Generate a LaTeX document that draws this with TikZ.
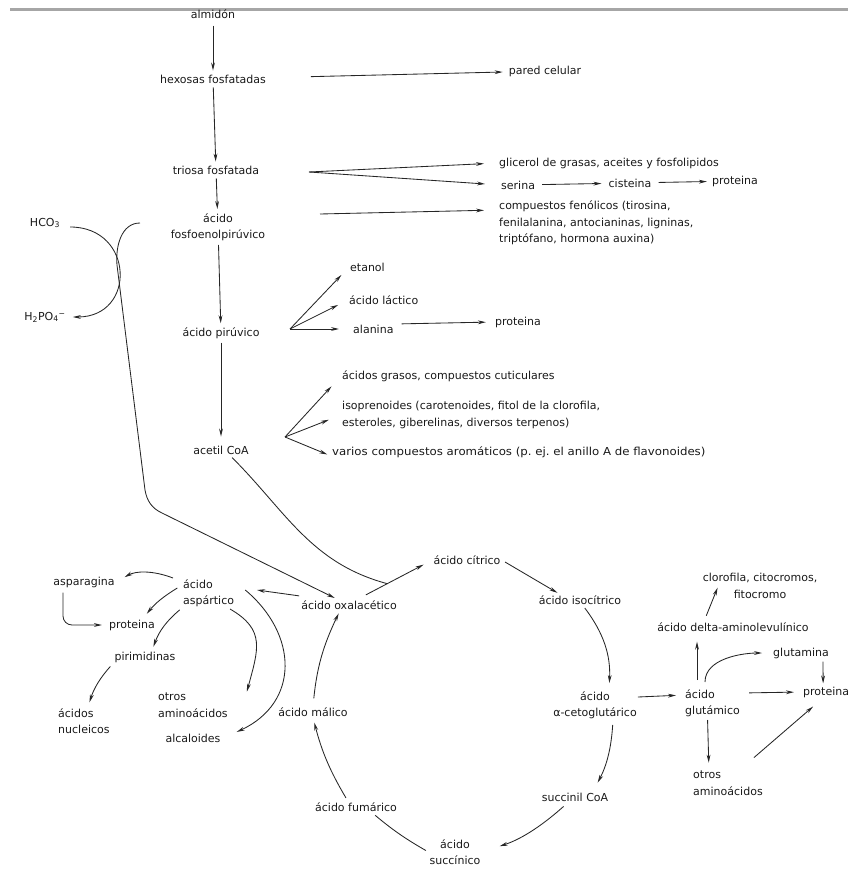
\documentclass[tikz,border=0pt]{standalone}
\usepackage{fontspec}
\setmainfont{DejaVu Sans}
\usepackage{tikz}
\usetikzlibrary{arrows.meta}
\usetikzlibrary{calc}
\newcommand{\lblfont}{\fontsize{11}{16.5}\selectfont}

\begin{document}
\begin{tikzpicture}[
    x=1pt, y=1pt,
    >={Stealth[length=8pt,width=3.8pt]},
    lbl/.style={font=\lblfont, inner sep=1pt, text=black!90},
    conn_style/.style={->, line width=0.85pt, draw=black!85, shorten <=3pt, shorten >=3pt},
    line_style/.style={line width=0.85pt, draw=black!85, shorten <=3pt, shorten >=3pt},
    bar_style/.style={fill=black!35}
  ]
  \useasboundingbox (0,0) rectangle (848,-869);

  % 0. Grå kant överst
  \fill[bar_style] (10,-8.5) rectangle (848,-11.5);

  % 1. Huvudkedjan
  \node[lbl] (alm) at (213,-14) {almidón};
  \node[lbl] (hex) at (213,-79) {hexosas fosfatadas};
  \node[lbl] (tri) at (216,-170) {triosa fosfatada};
  \node[lbl, align=center] (pep) at (218,-227) {ácido\\fosfoenolpirúvico};
  \node[lbl] (pir) at (221,-333) {ácido pirúvico};
  \node[lbl] (acet) at (221,-450) {acetil CoA};

  \draw[conn_style, shorten <=6pt] (alm) -- (hex);
  \draw[conn_style] (hex) -- (tri);
  \draw[conn_style] (tri) -- (pep);
  \draw[conn_style] (pep) -- (pir);
  \draw[conn_style, shorten >=8pt] (pir) -- (acet);

  % 2. Ramar åt höger upptill
  \node[lbl] (pared) at (545,-71) {pared celular};
  \node[lbl, anchor=west] (glic) at (498,-163) {glicerol de grasas, aceites y fosfolipidos};
  \node[lbl, anchor=west] (ser) at (500,-185) {serina};
  \node[lbl] (cis) at (630,-183) {cisteina};
  \node[lbl] (protA) at (735,-181) {proteina};
  \node[lbl, anchor=north west, align=left] (fen) at (498,-200)
    {compuestos fenólicos (tirosina,\\fenilalanina, antocianinas, ligninas,\\triptófano, hormona auxina)};

  \draw[conn_style, shorten <=44pt, shorten >=5pt] (hex) -- (pared);
  \coordinate (triB) at (309,-172);
  \draw[conn_style, shorten <=0pt, shorten >=14pt] (triB) -- (glic.west);
  \draw[conn_style, shorten <=0pt, shorten >=15pt] (triB) -- (ser.west);
  \draw[conn_style, shorten <=6pt, shorten >=6pt] (ser) -- (cis);
  \draw[conn_style, shorten <=6pt, shorten >=4pt] (cis) -- (protA);
  \coordinate (pepB) at (320,-214);
  \draw[conn_style, shorten <=0pt, shorten >=14pt] (pepB) -- ([yshift=-10pt]fen.north west);

  % 3. HCO3 och H2PO4
  \node[lbl] (hco) at (45,-223) {HCO\textsubscript{3}};
  \node[lbl] (hpo) at (45,-317) {H\textsubscript{2}PO\textsubscript{4}\textsuperscript{−}};
  \draw[conn_style, shorten <=0pt, shorten >=0pt] ([xshift=9pt,yshift=-4pt]hco.east)
    .. controls +(64,0) and +(64,0) .. ([xshift=6pt]hpo.east);

  % 4. Pyruvat
  \node[lbl, anchor=west] (etanol) at (349,-267) {etanol};
  \node[lbl, anchor=west] (lact) at (348,-300) {ácido láctico};
  \node[lbl, anchor=west] (ala) at (352,-329) {alanina};
  \node[lbl] (protB) at (518,-322) {proteina};

  \coordinate (pirB) at (290,-329);
  \draw[conn_style, shorten <=0pt, shorten >=11pt] (pirB) -- (etanol.west);
  \draw[conn_style, shorten <=0pt, shorten >=11pt] (pirB) -- (lact.west);
  \draw[conn_style, shorten <=0pt, shorten >=13pt] (pirB) -- (ala.west);
  \draw[conn_style, shorten <=7pt, shorten >=8pt] ([yshift=5pt]ala.east) -- (protB.west);

  % 5. Acetyl-CoA
  \node[lbl, anchor=west] (grasos) at (341,-376) {ácidos grasos, compuestos cuticulares};
  \node[lbl, anchor=west, align=left] (isop) at (341,-415)
    {isoprenoides (carotenoides, fitol de la clorofila,\\esteroles, giberelinas, diversos terpenos)};
  \node[lbl, anchor=west] (varios) at (331,-452)
    {\scalebox{1.07}[1]{varios compuestos aromáticos (p.~ej.\ el anillo A de flavonoides)}};

  \coordinate (acetB) at (285,-437);
  \draw[conn_style, shorten <=0pt, shorten >=14pt] (acetB) -- (grasos.west);
  \draw[conn_style, shorten <=0pt, shorten >=13pt] (acetB) -- (isop.west);
  \draw[conn_style, shorten <=0pt, shorten >=4pt] (acetB) -- ([yshift=-4pt]varios.west);

  % 6. Citronsyracykeln
  \node[lbl] (cit) at (467,-560) {ácido cítrico};
  \node[lbl] (isoc) at (580,-600) {ácido isocítrico};
  \node[lbl, align=center] (akg) at (595,-705) {ácido\\α-cetoglutárico};
  \node[lbl] (succoa) at (575,-797) {succinil CoA};
  \node[lbl, align=center] (succ) at (455,-852) {ácido\\succínico};
  \node[lbl] (fum) at (356,-807) {ácido fumárico};
  \node[lbl] (mal) at (313,-712) {ácido málico};
  \node[lbl] (oxa) at (349,-605) {ácido oxalacético};

  \coordinate (oxaT) at ([xshift=16pt,yshift=4pt]oxa.north);
  \draw[conn_style, shorten <=1pt, shorten >=10pt] (oxaT) -- (cit.west);
  \coordinate (join) at ($(oxaT)!0.33!(cit.west)$);
  \draw[line_style, shorten >=0pt] ([xshift=9pt]acet.south) to[out=-45,in=165] (join);
  \draw[conn_style, shorten <=4pt] (cit.east) -- ([xshift=-20pt]isoc.north);
  \draw[conn_style, shorten >=7pt] ([xshift=3pt]isoc.south) to[bend left=20] ([xshift=14pt]akg.north);
  \draw[conn_style, shorten <=5pt, shorten >=10pt] ([xshift=18pt]akg.south) to[bend left=12] ([xshift=18pt]succoa.north);
  \draw[conn_style, shorten <=6pt, shorten >=19pt] ([xshift=-7pt]succoa.south) to[bend left=12] (succ.east);
  \draw[line_style, shorten >=4pt] (succ.west) to[bend left=5] ([xshift=16pt]fum.south);
  \draw[conn_style, shorten <=4pt, shorten >=5pt] ([xshift=-8pt]fum.north) to[bend left=8] (mal.south);
  \draw[conn_style, shorten <=8pt] (mal.north) to[bend left=10] ([xshift=-9pt]oxa.south);

  % 7. Lång linje från fosfoenolpyruvat till oxalacetat
  \coordinate (pepL) at (140,-223);
  \draw[conn_style, shorten <=0pt] (pepL) to[out=180,in=95] (117,-265) -- (145,-490)
    to[out=-80,in=155] (162,-513) -- (oxa);

  % 8. Aspartat
  \node[lbl, anchor=west, align=left] (asp) at (182,-593) {ácido\\aspártico};
  \node[lbl] (aspg) at (84,-582) {asparagina};
  \node[lbl] (protC) at (132,-625) {proteina};
  \node[lbl] (pirim) at (145,-657) {pirimidinas};
  \node[lbl, anchor=west, align=left] (nucl) at (57,-721) {ácidos\\nucleicos};
  \node[lbl, anchor=west, align=left] (otrosA) at (157,-705) {otros\\aminoácidos};
  \node[lbl] (alca) at (193,-738) {alcaloides};

  \draw[conn_style, shorten <=1pt, shorten >=22pt] ([yshift=9pt]oxa.west) -- ([yshift=6pt]asp.east);
  \draw[conn_style, shorten <=0pt, shorten >=10pt] ([xshift=-9pt]asp.north west) to[bend right=25] (aspg.east);
  \draw[conn_style, rounded corners=9pt, shorten <=4pt, shorten >=6pt] ([xshift=-21pt]aspg.south) |- (protC.west);
  \draw[conn_style, shorten <=2pt, shorten >=6pt] ([xshift=-3pt,yshift=6pt]asp.west) to[bend right=10] ([xshift=11pt]protC.north);
  \draw[conn_style, shorten >=4pt] (asp.south west) to[bend right=15] ([xshift=7pt]pirim.north);
  \draw[conn_style, shorten <=4pt, shorten >=5pt] ([xshift=-32pt]pirim.south) to[bend right=12] ([xshift=4pt]nucl.north);
  \draw[conn_style, shorten <=2pt, shorten >=0pt] ([xshift=-7pt]asp.south east)
    to[out=-30,in=75,looseness=1.3] ([xshift=18pt]otrosA.north east);
  \draw[conn_style, shorten <=0pt, shorten >=0pt] ([xshift=10pt,yshift=3pt]asp.east)
    to[out=-40,in=25,looseness=1.25] ([xshift=15pt,yshift=6pt]alca.east);

  % 9. Glutamat
  \node[lbl, anchor=west, align=left] (glu) at (684,-703) {ácido\\glutámico};
  \node[lbl, anchor=west] (protD) at (802,-692) {proteina};
  \node[lbl] (glna) at (801,-653) {glutamina};
  \node[lbl] (dala) at (733,-627) {ácido delta-aminolevulínico};
  \node[lbl, align=center] (clor) at (760,-586) {clorofila, citocromos,\\fitocromo};
  \node[lbl, anchor=west, align=left] (otrosB) at (692,-783) {otros\\aminoácidos};

  \draw[conn_style, shorten <=0pt, shorten >=8pt] ([yshift=8pt]akg.east) -- ([yshift=8pt]glu.west);
  \draw[conn_style, shorten <=8pt, shorten >=8pt] ([yshift=10pt]glu.east) -- (protD.west);
  \draw[conn_style, shorten <=2pt, shorten >=7pt] ([xshift=-5pt]glu.south) -- ([xshift=-19pt]otrosB.north);
  \draw[conn_style, shorten <=0pt, shorten >=0pt] ([xshift=-10pt,yshift=12pt]otrosB.north east) -- ([xshift=-13pt,yshift=-8pt]protD.south);
  \draw[conn_style, shorten <=2pt, shorten >=2pt] ([xshift=22pt]glna.south) -- ([xshift=-3pt]protD.north);
  \draw[conn_style, shorten <=6pt, shorten >=10pt] ([xshift=21pt]glu.north west) to[out=90,in=180] (glna.west);
  \coordinate (gluU) at ([xshift=13pt]glu.north west);
  \draw[conn_style, shorten <=8pt, shorten >=9pt] (gluU) -- (gluU |- dala.south);
  \draw[conn_style, shorten <=6pt, shorten >=0pt] ([xshift=-29pt]dala.north) -- ([xshift=16pt,yshift=12pt]clor.south west);

\end{tikzpicture}
\end{document}
